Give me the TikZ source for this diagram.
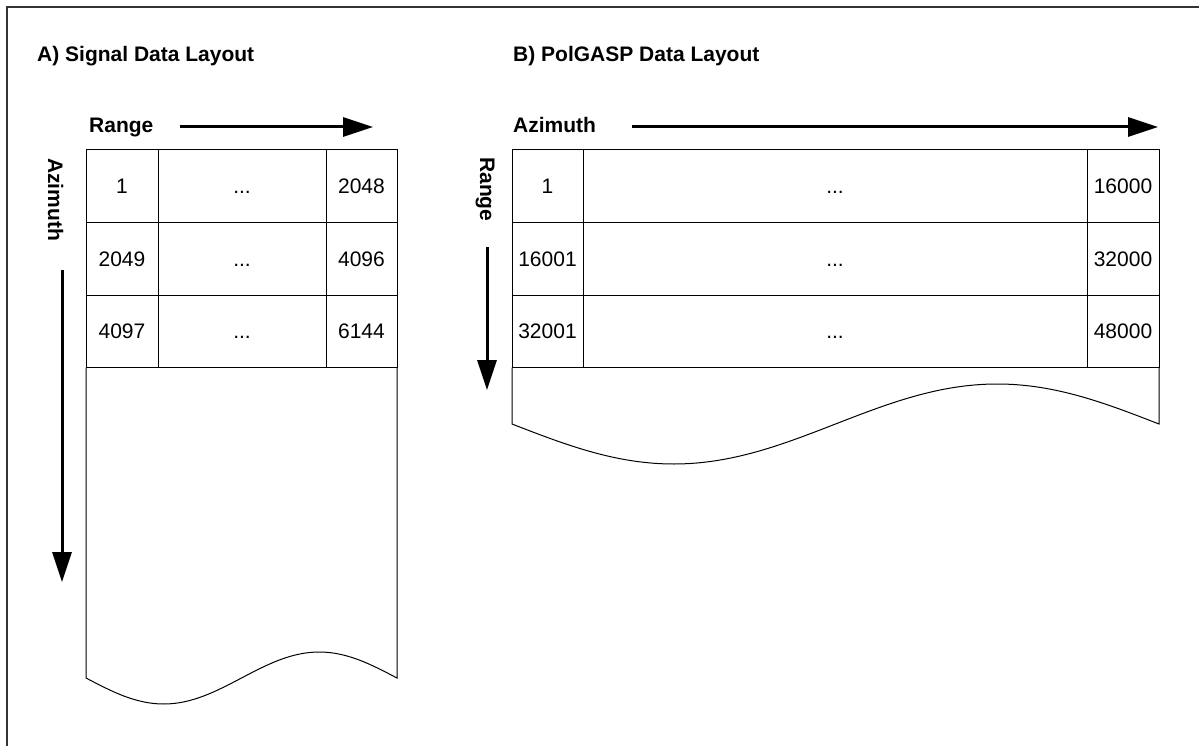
\documentclass[tikz,border=0pt]{standalone}
\usepackage{fontspec}
\setmainfont{Liberation Sans}
\usetikzlibrary{arrows.meta}

\begin{document}
\begin{tikzpicture}[x=1pt, y=-1pt, font=\fontsize{21pt}{25pt}\selectfont,
  cell/.style={draw, line width=1pt, minimum height=72.5pt, text height=15pt, text depth=0pt,
    inner sep=0pt, outer sep=0pt},
  axis/.style={line width=3pt, -{Triangle[length=30pt,width=19pt]}},
  head/.style={font=\fontsize{21pt}{25pt}\selectfont\bfseries, inner sep=0pt}]

\useasboundingbox (0,0) rectangle (1199,746);
\draw[line width=1.5pt, black!80] (7,746) -- (7,7) -- (1199,7);

\node[head, anchor=base west] (titleA) at (37,61.7) {A) Signal Data Layout};
\node[head, anchor=base west] (titleB) at (513,61.7) {B) PolGASP Data Layout};

% signal layout
\node[head, anchor=base west] (rangeA) at (89,133) {Range};
\node[head, anchor=base west, rotate=-90] (azimA) at (48,158) {Azimuth};

\coordinate (rA1) at (180,127);
\coordinate (rA2) at (373,127);
\coordinate (aA1) at (62,270);
\coordinate (aA2) at (62,582);
\draw[axis] (rA1) -- (rA2);
\draw[axis] (aA1) -- (aA2);

\node[cell, minimum width=72pt] (sig11) at (122,186.25) {1};
\node[cell, minimum width=168pt] (sig12) at (242,186.25) {...};
\node[cell, minimum width=71pt] (sig13) at (361.5,186.25) {2048};
\node[cell, minimum width=72pt] (sig21) at (122,258.75) {2049};
\node[cell, minimum width=168pt] (sig22) at (242,258.75) {...};
\node[cell, minimum width=71pt] (sig23) at (361.5,258.75) {4096};
\node[cell, minimum width=72pt] (sig31) at (122,331.25) {4097};
\node[cell, minimum width=168pt] (sig32) at (242,331.25) {...};
\node[cell, minimum width=71pt] (sig33) at (361.5,331.25) {6144};

\draw[line width=1pt] (86,367.5) -- (86,678) sin (163.75,704) cos (241.5,678)
  sin (319.25,652) cos (397,678) -- (397,367.5);

% polgasp layout
\node[head, anchor=base west] (azimB) at (513,133) {Azimuth};
\node[head, anchor=base west, rotate=-90] (rangeB) at (480,157) {Range};

\coordinate (aB1) at (632,127);
\coordinate (aB2) at (1158,127);
\coordinate (rB1) at (487,247);
\coordinate (rB2) at (487,390);
\draw[axis] (aB1) -- (aB2);
\draw[axis] (rB1) -- (rB2);

\node[cell, minimum width=71pt] (pol11) at (547.5,186.25) {1};
\node[cell, minimum width=504pt] (pol12) at (835,186.25) {...};
\node[cell, minimum width=72pt] (pol13) at (1123,186.25) {16000};
\node[cell, minimum width=71pt] (pol21) at (547.5,258.75) {16001};
\node[cell, minimum width=504pt] (pol22) at (835,258.75) {...};
\node[cell, minimum width=72pt] (pol23) at (1123,258.75) {32000};
\node[cell, minimum width=71pt] (pol31) at (547.5,331.25) {32001};
\node[cell, minimum width=504pt] (pol32) at (835,331.25) {...};
\node[cell, minimum width=72pt] (pol33) at (1123,331.25) {48000};

\draw[line width=1pt] (512,367.5) -- (512,424) sin (673.75,464) cos (835.5,424)
  sin (997.25,384) cos (1159,424) -- (1159,367.5);

\end{tikzpicture}
\end{document}
